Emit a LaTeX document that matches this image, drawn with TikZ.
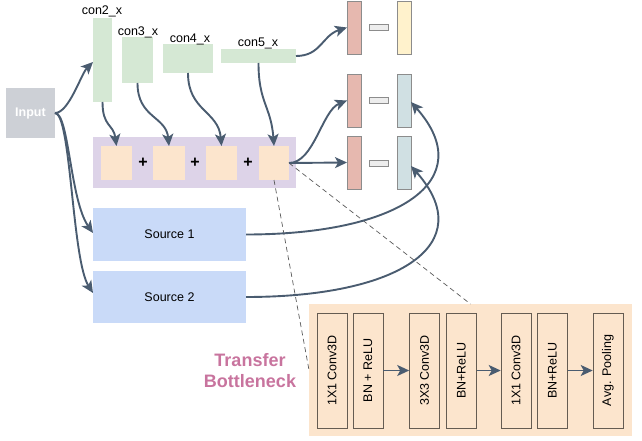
\documentclass[tikz,border=0pt]{standalone}
\usepackage{fontspec}
\setmainfont{Liberation Sans}
\usepackage{graphicx}
\usetikzlibrary{arrows.meta}
\definecolor{arr}{HTML}{4A5C70}
\definecolor{ingray}{HTML}{CDD0D6}
\definecolor{grn}{HTML}{D5E8D4}
\definecolor{purp}{HTML}{DDD3E8}
\definecolor{peach}{HTML}{FCE5CD}
\definecolor{redb}{HTML}{E6B8AF}
\definecolor{yelb}{HTML}{FFF2CC}
\definecolor{blub}{HTML}{D0E0E3}
\definecolor{srcb}{HTML}{C9DAF8}
\definecolor{tbpink}{HTML}{C8749E}
\tikzset{
  box/.style={inner sep=0pt, outer sep=0pt, anchor=north west},
  greenbox/.style={box, fill=grn},
  sqbox/.style={box, fill=peach},
  barbox/.style={box, draw=black!45, line width=0.6pt},
  lab/.style={font=\fontsize{12.5}{14}\selectfont, inner sep=0pt},
  con/.style={draw=arr, line width=1.9pt, -{Stealth[length=12pt,width=11pt,inset=3pt]}},
  dashl/.style={draw=black!65, line width=0.7pt, dash pattern=on 5pt off 3.5pt},
  layer/.style={draw=black!50!peach!80!black, fill=peach, line width=0.6pt, inner sep=0pt,
    minimum width=30pt, minimum height=115pt, font=\fontsize{12.5}{14}\selectfont},
}
\begin{document}
\begin{tikzpicture}[x=1pt,y=-1pt]
\useasboundingbox (0,0) rectangle (642,441);
% Input
\node[box, fill=ingray, minimum width=49pt, minimum height=50pt] (in) at (6,88) {};
\node[text=white, font=\bfseries\fontsize{12.5}{14}\selectfont, inner sep=0pt] (intxt) at (in.center) {Input};
% backbone stages
\node[greenbox, minimum width=19pt, minimum height=84pt] (c2) at (93,18) {};
\node[greenbox, minimum width=31pt, minimum height=46pt] (c3) at (122,37) {};
\node[greenbox, minimum width=50pt, minimum height=29pt] (c4) at (163,44) {};
\node[greenbox, minimum width=75pt, minimum height=14pt] (c5) at (221,49) {};
\node[lab] (l2) at (102,11) {con2\_x};
\node[lab] (l3) at (138,32) {con3\_x};
\node[lab] (l4) at (190,39) {con4\_x};
\node[lab] (l5) at (258,43) {con5\_x};
% fusion box
\node[box, fill=purp, minimum width=203pt, minimum height=51pt] (pb) at (93,137) {};
\node[sqbox, minimum width=31pt, minimum height=34pt] (q1) at (101,146) {};
\node[sqbox, minimum width=32pt, minimum height=34pt] (q2) at (153,146) {};
\node[sqbox, minimum width=31pt, minimum height=34pt] (q3) at (206,146) {};
\node[sqbox, minimum width=30pt, minimum height=34pt] (q4) at (259,146) {};
\node[font=\bfseries\fontsize{16}{16}\selectfont, inner sep=0pt] (p1) at (143,163) {+};
\node[font=\bfseries\fontsize{16}{16}\selectfont, inner sep=0pt] (p2) at (195,163) {+};
\node[font=\bfseries\fontsize{16}{16}\selectfont, inner sep=0pt] (p3) at (248,163) {+};
% right bars
\node[barbox, fill=redb, minimum width=14pt, minimum height=53pt] (r1) at (347,1) {};
\node[barbox, fill=redb, minimum width=14pt, minimum height=53pt] (r2) at (347,74) {};
\node[barbox, fill=redb, minimum width=14pt, minimum height=53pt] (r3) at (347,136) {};
\node[barbox, fill=black!7, minimum width=19pt, minimum height=6pt] (m1) at (369,24) {};
\node[barbox, fill=black!7, minimum width=19pt, minimum height=6pt] (m2) at (369,97) {};
\node[barbox, fill=black!7, minimum width=19pt, minimum height=6pt] (m3) at (369,160) {};
\node[barbox, fill=yelb, minimum width=14pt, minimum height=53pt] (b1) at (397,1) {};
\node[barbox, fill=blub, minimum width=14pt, minimum height=53pt] (b2) at (397,74) {};
\node[barbox, fill=blub, minimum width=14pt, minimum height=53pt] (b3) at (397,136) {};
% sources
\node[box, fill=srcb, minimum width=153pt, minimum height=53pt] (s1) at (93,208) {};
\node[lab] (s1t) at (s1.center) {Source 1};
\node[box, fill=srcb, minimum width=153pt, minimum height=52pt] (s2) at (93,271) {};
\node[lab] (s2t) at (s2.center) {Source 2};
% transfer bottleneck box and zoom lines
\node[box, fill=peach, minimum width=323pt, minimum height=132pt] (tb) at (309,304) {};
\draw[dashl] (q4.east) -- (tb.north);
\draw[dashl] (q4.south) -- (tb.west);
\node[layer] (t1) at (332,370.5) {\rotatebox{90}{1X1 Conv3D}};
\node[layer] (t2) at (368,370.5) {\rotatebox{90}{BN + ReLU}};
\node[layer] (t3) at (424.5,370.5) {\rotatebox{90}{3X3 Conv3D}};
\node[layer] (t4) at (461.5,370.5) {\rotatebox{90}{BN+ReLU}};
\node[layer] (t5) at (516,370.5) {\rotatebox{90}{1X1 Conv3D}};
\node[layer] (t6) at (552.5,370.5) {\rotatebox{90}{BN+ReLU}};
\node[layer] (t7) at (608,370.5) {\rotatebox{90}{Avg. Pooling}};
\draw[con] (t2.east) -- (t3.west);
\draw[con] (t4.east) -- (t5.west);
\draw[con] (t6.east) -- (t7.west);
\node[text=tbpink, align=center, font=\bfseries\fontsize{18}{21}\selectfont, inner sep=0pt] (tbl) at (250,371) {Transfer\\Bottleneck};
% connectors
\draw[con] (in.east) .. controls +(14,0) and +(-12,12) .. (c2.west |- 0,62);
\draw[con] (in.east) .. controls +(14,0) and +(-23,-33) .. (s1.west |- 0,233);
\draw[con] (in.east) .. controls +(16,0) and +(-21,-33) .. (s2.west |- 0,293);
\draw[con] (c2.south) .. controls +(0,25) and +(-3,-22) .. (q1.north);
\draw[con] (c3.south) .. controls +(0,35) and +(-3,-30) .. (q2.north);
\draw[con] (c4.south) .. controls +(0,38) and +(-3,-35) .. (q3.north);
\draw[con] (c5.south) .. controls +(0,40) and +(-3,-40) .. (q4.north);
\draw[con] (c5.east) .. controls +(25,0) and +(-25,8) .. (r1.west);
\draw[con] (q4.east) -- (r3.west);
\draw[con] (q4.east) .. controls +(25,0) and +(-25,10) .. (r2.west);
\draw[con] (s1.east) .. controls +(154,0) and +(69,78) .. (b2.east |- 0,102);
\draw[con] (s2.east) .. controls +(154,0) and +(69,78) .. (b3.east |- 0,166);
\end{tikzpicture}
\end{document}
